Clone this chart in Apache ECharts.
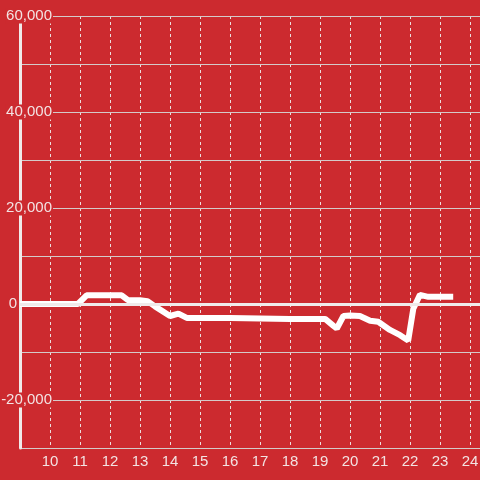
<!DOCTYPE html>
<html>
<head>
<meta charset="utf-8">
<script src="https://cdn.jsdelivr.net/npm/echarts@6/dist/echarts.min.js"></script>
<style>
html, body { margin: 0; padding: 0; background: #cc2a2f; }
#chart { width: 480px; height: 480px; }
</style>
</head>
<body>
<div id="chart"></div>
<script>
// 数据
var xValues = [9.0, 10.93, 11.22, 12.0, 12.39, 12.6, 13.0, 13.25, 13.5, 14.0, 14.28, 14.56, 15.0, 16.0, 17.0, 17.05,
	18.0, 19.0, 19.17, 19.44, 19.56, 19.78, 20.0, 20.33, 20.67, 20.94, 21.33, 21.67, 21.94, 22.11, 22.33, 22.61, 23.44];
var yValues = [0, 0, 1800, 1800, 1800, 800, 800, 600, -500, -2500, -2000, -2900, -2900, -2900, -3000, -3100,
	-3100, -3100, -3100, -4500, -5100, -2500, -2400, -2500, -3500, -3700, -5400, -6500, -7600, -1000, 1900, 1500, 1500];
var yLabelValues = [-20000, 0, 20000, 40000, 60000];

var chart = echarts.init(document.getElementById('chart'));

function fmt(v) {
	return String(v).replace(/\B(?=(\d{3})+(?!\d))/g, ',');
}

var points = [];
for (var i = 0; i < xValues.length; i++) {
	points.push([xValues[i], yValues[i]]);
}

chart.setOption({
	backgroundColor: '#cc2a2f',
	animation: false,
	textStyle: {
		fontFamily: 'Liberation Sans'
	},
	grid: {
		left: 20,
		right: 0,
		top: 16,
		bottom: 32,
		containLabel: false,
		outerBoundsMode: 'none'
	},
	xAxis: {
		type: 'value',
		min: 9,
		max: 24.333,
		interval: 1,
		axisLine: { show: false, onZero: false },
		axisTick: { show: false },
		axisLabel: {
			color: '#f3e3e3',
			fontSize: 15,
			margin: 6,
			showMaxLabel: false,
			formatter: function(v) {
				if (v === 9 || v !== Math.round(v)) return '';
				return String(v);
			}
		},
		splitLine: {
			show: true,
			lineStyle: { color: '#ecdede', type: [3, 3], width: 1 }
		}
	},
	yAxis: {
		type: 'value',
		min: -30000,
		max: 60000,
		interval: 10000,
		z: 1,
		axisLine: {
			show: true,
			lineStyle: { color: '#f0eaea', width: 3 }
		},
		axisTick: { show: false },
		axisLabel: {
			color: '#f3e3e3',
			fontSize: 15,
			margin: -33,
			formatter: function(v) {
				if (yLabelValues.indexOf(v) < 0) return '';
				if (v === 0) return '{z|0}';
				return '{a|' + fmt(v) + '}';
			},
			rich: {
				a: {
					fontSize: 15,
					color: '#f3e3e3',
					backgroundColor: '#cc2a2f',
					padding: [0, 1, 0, 1]
				},
				z: {
					fontSize: 15,
					color: '#f3e3e3',
					padding: [0, 36, 0, 0]
				}
			}
		},
		splitLine: {
			show: true,
			lineStyle: { color: '#d4caca', width: 1 }
		}
	},
	series: [
		{
			type: 'line',
			data: points,
			showSymbol: false,
			symbol: 'none',
			lineStyle: { color: '#ffffff', width: 6 },
			z: 2,
			markLine: {
				silent: true,
				symbol: 'none',
				label: { show: false },
				lineStyle: { color: '#f0eaea', width: 3, type: 'solid' },
				data: [{ yAxis: 0 }]
			}
		}
	]
});
</script>
</body>
</html>
